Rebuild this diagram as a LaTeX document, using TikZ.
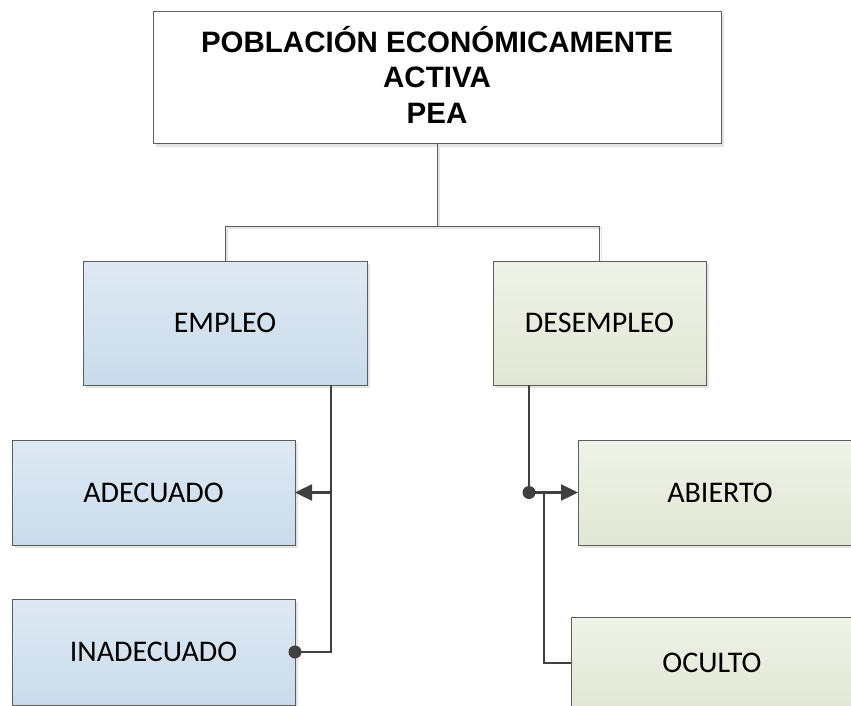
\documentclass[tikz,border=0pt]{standalone}
\usepackage{fontspec}
\setmainfont{Carlito}
\newfontfamily\titlefont{Liberation Sans}
\usetikzlibrary{shadows,arrows.meta,calc}
\definecolor{bluetop}{HTML}{DFE9F3}
\definecolor{bluebot}{HTML}{C9DBEB}
\definecolor{greentop}{HTML}{EFF2E8}
\definecolor{greenbot}{HTML}{E1E7D5}
\definecolor{edgegray}{HTML}{5E5E5E}
\definecolor{linkgray}{HTML}{404040}
\definecolor{shadowgray}{HTML}{E4E4E4}
\tikzset{
  basebox/.style={draw=edgegray, line width=1pt, inner sep=0pt, outer sep=0pt,
    drop shadow={shadow xshift=3pt, shadow yshift=-3pt, fill=shadowgray, opacity=1}},
  bluebox/.style={basebox, top color=bluetop, bottom color=bluebot,
    minimum width=284pt, minimum height=105pt, font=\fontsize{30}{36}\selectfont},
  greenbox/.style={basebox, top color=greentop, bottom color=greenbot,
    minimum width=284pt, minimum height=105pt, font=\fontsize{30}{36}\selectfont},
  titletext/.style={align=center, inner sep=0pt, font=\titlefont\bfseries\fontsize{29.5}{35.5}\selectfont},
  treeline/.style={draw=edgegray, line width=0.9pt},
  treeshadow/.style={draw=shadowgray, line width=1.5pt},
  linkline/.style={draw=linkgray, line width=2.4pt},
  arrowlink/.style={linkline, -{Triangle[length=17pt, width=16pt]}},
}
\begin{document}
\begin{tikzpicture}[x=1pt,y=-1pt]
\path[use as bounding box, clip] (0,0) rectangle (851,706);
\fill[white] (0,0) rectangle (851,706);

% boxes
\node[basebox, fill=white, minimum width=568pt, minimum height=132pt] (pea) at (437,78) {};
\node[titletext] (peatitle) at (437,74.5) {POBLACIÓN ECONÓMICAMENTE\\ACTIVA\\PEA};

\node[bluebox, minimum height=124pt] (empleo) at (225,323) {EMPLEO};
\node[greenbox, minimum width=213pt, minimum height=124pt] (desempleo) at (599.5,323) {DESEMPLEO};

\node[bluebox, minimum width=283pt] (adecuado) at (153.5,492.5) {ADECUADO};
\node[bluebox, minimum width=283pt, minimum height=106pt] (inadecuado) at (153.5,652) {INADECUADO};

\node[greenbox] (abierto) at (720,492.5) {ABIERTO};
\node[greenbox, minimum width=282pt, minimum height=92pt] (oculto) at (712,663) {OCULTO};

% top tree
\coordinate (j) at ($(pea.south)+(0,82)$);
\draw[treeshadow] ($(pea.south)+(2,2)$) -- ($(j)+(2,2)$);
\draw[treeshadow] ($(j -| empleo.north)+(2,2)$) -- ($(j -| desempleo.north)+(2,2)$);
\draw[treeshadow] ($(j -| empleo.north)+(2,2)$) -- ($(empleo.north)+(2,0)$);
\draw[treeshadow] ($(j -| desempleo.north)+(2,2)$) -- ($(desempleo.north)+(2,0)$);
\draw[treeline] (pea.south) -- (j);
\draw[treeline] (j) -| (empleo.north);
\draw[treeline] (j) -| (desempleo.north);

% employment branch
\coordinate (e1) at ($(empleo.south east)+(-36,0)$);
\draw[linkline] (e1) |- (inadecuado.east);
\fill[linkgray] (inadecuado.east) circle (6.5pt);
\draw[arrowlink] (e1 |- adecuado.east) -- (adecuado.east);

% unemployment branch
\coordinate (d1) at ($(desempleo.south west)+(36,0)$);
\coordinate (d2) at (d1 |- abierto.west);
\draw[linkline] (d1) -- (d2);
\fill[linkgray] (d2) circle (6.5pt);
\draw[arrowlink] (d2) -- (abierto.west);
\coordinate (d3) at ($(d2)+(15,0)$);
\draw[linkline] (d3) |- (oculto.west);
\end{tikzpicture}
\end{document}
